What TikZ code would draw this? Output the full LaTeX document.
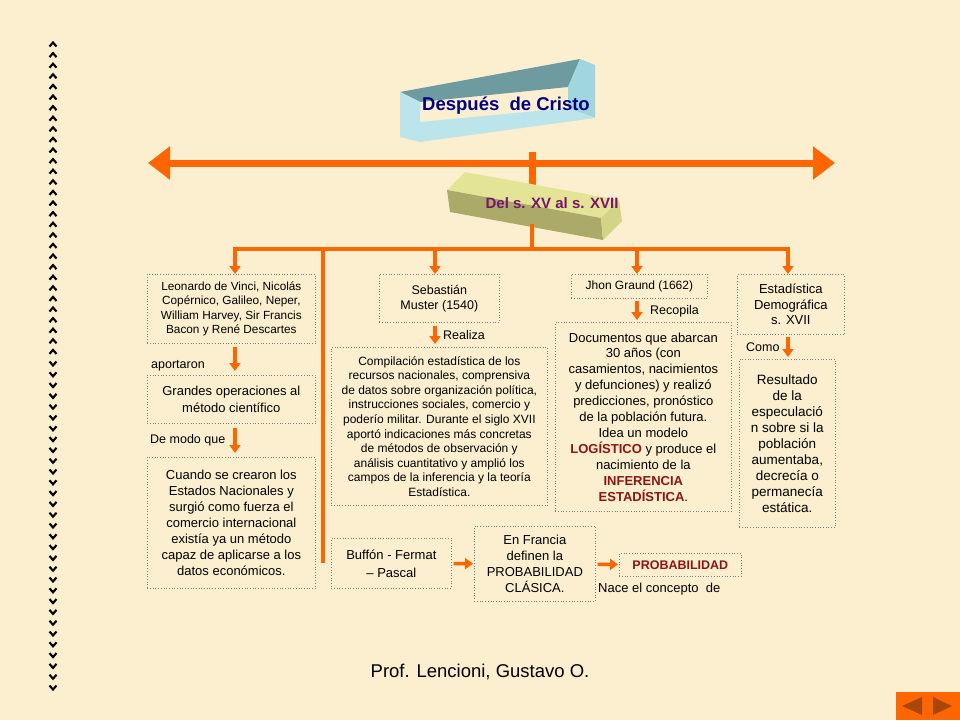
\documentclass[tikz,border=0pt]{standalone}
\usepackage{fontspec}
\setmainfont{Liberation Sans}
\usetikzlibrary{arrows.meta}
\definecolor{fondo}{RGB}{252,239,207}
\definecolor{naranja}{RGB}{255,102,0}
\definecolor{borde}{RGB}{125,125,125}
\definecolor{azul}{RGB}{0,0,128}
\definecolor{morado}{RGB}{120,20,110}
\definecolor{rojo}{RGB}{140,20,20}
\definecolor{cafe}{RGB}{170,70,10}
\definecolor{tealosc}{RGB}{110,155,160}
\definecolor{cianclaro}{RGB}{188,229,235}
\definecolor{cianmed}{RGB}{160,214,222}
\definecolor{amarclaro}{RGB}{228,228,150}
\definecolor{oliva}{RGB}{172,170,105}
\definecolor{amarmed}{RGB}{212,212,135}
\tikzset{>={Triangle[length=8pt,width=11pt]},%
  caja/.style={draw=borde,dotted,line width=0.7pt,align=center,inner sep=0pt,anchor=north west},%
  flecha/.style={naranja,line width=3.5pt,->},%
  rama/.style={naranja,line width=4pt},%
  etiq/.style={anchor=west,inner sep=0pt,font=\fontsize{12.5}{15}\selectfont},%
  chev/.style={line width=2.1pt}}
\newcommand{\rj}[1]{\textcolor{rojo}{\textbf{#1}}}

\begin{document}
\begin{tikzpicture}[x=1pt,y=-1pt]
  \useasboundingbox (0,0) rectangle (960,720);
  \fill[fondo] (0,0) rectangle (960,720);
  % chevrones
  \foreach \i in {0,...,29} {\draw[chev] (49.5,{46.5+10.6*\i}) -- (53,{42.5+10.6*\i}) -- (56.5,{46.5+10.6*\i});};
  \foreach \i in {0,...,30} {\draw[chev] (49.5,{361.5+10.8*\i}) -- (53,{365.5+10.8*\i}) -- (56.5,{361.5+10.8*\i});};
  % eje del tiempo
  \coordinate (izq) at (148,163);
  \coordinate (der) at (835,163);
  \coordinate (eje) at (532,152);
  \draw[naranja,line width=7pt,{Triangle[length=22pt,width=32pt]}-{Triangle[length=22pt,width=32pt]}] (izq) -- (der);
  \draw[naranja,line width=7pt] (eje) -- (532,200);
  % prisma 1
  \fill[tealosc] (400,92) -- (580,59) -- (568,87) -- (420,102) -- cycle;
  \fill[cianmed] (568,87) -- (580,59) -- (595,65) -- (595,118) -- (568,108) -- cycle;
  \fill[cianclaro] (400,92) -- (420,102) -- (420,142) -- (400,137) -- cycle;
  \fill[cianclaro] (420,122) -- (568,108) -- (595,118) -- (420,142) -- cycle;
  \node[font=\bfseries\fontsize{18.5}{22}\selectfont,text=azul] (dc) at (506,106) {Después\ \ de Cristo};
  % prisma 2
  \fill[amarclaro] (447,190) -- (465,172) -- (619,200) -- (601,218) -- cycle;
  \fill[oliva] (447,190) -- (601,218) -- (603,240) -- (450,212) -- cycle;
  \fill[amarmed] (601,218) -- (619,200) -- (622,221) -- (603,240) -- cycle;
  \node[font=\bfseries\fontsize{15}{18}\selectfont,text=morado] (siglo) at (552,203) {Del s. XV al s. XVII};
  % ramas
  \coordinate (pie) at (532,224);
  \coordinate (nudo) at (532,249);
  \coordinate (b1) at (235,249);
  \coordinate (b2) at (435,249);
  \coordinate (b3) at (637,249);
  \coordinate (b4) at (788,249);
  \coordinate (bv) at (323,249);
  \coordinate (bvfin) at (323,563);
  \draw[rama] (pie) -- (nudo);
  \draw[rama,line cap=rect] (b1) -- (b4);
  \draw[rama] (bv) -- (bvfin);
  % cajas
  \node[caja,minimum width=168pt,minimum height=69pt,font=\fontsize{11.8}{14.3}\selectfont] (leo) at (147,274)
    {Leonardo de Vinci, Nicolás\\Copérnico, Galileo, Neper,\\William Harvey, Sir Francis\\Bacon y René Descartes};
  \node[caja,minimum width=168pt,minimum height=48pt,font=\fontsize{13}{17}\selectfont] (grandes) at (147,375)
    {Grandes operaciones al\\método científico};
  \node[caja,minimum width=168pt,minimum height=131pt,font=\fontsize{13}{16}\selectfont] (cuando) at (147,457)
    {Cuando se crearon los\\Estados Nacionales y\\surgió como fuerza el\\comercio internacional\\existía ya un método\\capaz de aplicarse a los\\datos económicos.};
  \node[caja,minimum width=120pt,minimum height=48pt,font=\fontsize{12.5}{15}\selectfont] (muster) at (379,274)
    {Sebastián\\Muster (1540)};
  \node[caja,minimum width=216pt,minimum height=158pt,font=\fontsize{12}{14.6}\selectfont] (compila) at (331,347)
    {Compilación estadística de los\\recursos nacionales, comprensiva\\de datos sobre organización política,\\instrucciones sociales, comercio y\\poderío militar. Durante el siglo XVII\\aportó indicaciones más concretas\\de métodos de observación y\\análisis cuantitativo y amplió los\\campos de la inferencia y la teoría\\Estadística.};
  \node[caja,minimum width=136pt,minimum height=24pt,font=\fontsize{12}{14}\selectfont] (graund) at (571,274)
    {Jhon Graund (1662)};
  \node[caja,minimum width=176pt,minimum height=189pt,font=\fontsize{13}{15.9}\selectfont] (docs) at (555,322)
    {Documentos que abarcan\\30 años (con\\casamientos, nacimientos\\y defunciones) y realizó\\predicciones, pronóstico\\de la población futura.\\Idea un modelo\\\rj{LOGÍSTICO} y produce el\\nacimiento de la\\\rj{INFERENCIA}\\\rj{ESTADÍSTICA}.};
  \node[caja,minimum width=107pt,minimum height=60pt,font=\fontsize{13}{15.5}\selectfont] (demo) at (737,274)
    {Estadística\\Demográfica\\s. XVII};
  \node[caja,minimum width=96pt,minimum height=168pt,font=\fontsize{13.5}{16}\selectfont] (result) at (739,359)
    {Resultado\\de la\\especulació\\n sobre si la\\población\\aumentaba,\\decrecía o\\permanecía\\estática.};
  \node[caja,minimum width=120pt,minimum height=50pt,font=\fontsize{13}{18}\selectfont] (buffon) at (331,538)
    {Buffón - Fermat\\– Pascal};
  \node[caja,minimum width=121pt,minimum height=75pt,font=\fontsize{13}{16}\selectfont] (francia) at (474,526)
    {En Francia\\definen la\\PROBABILIDAD\\CLÁSICA.};
  \node[caja,minimum width=122pt,minimum height=23pt,font=\bfseries\fontsize{12.5}{15}\selectfont,text=rojo] (proba) at (619,553)
    {PROBABILIDAD};
  % etiquetas
  \node[etiq] (aport) at (151,366) {aportaron};
  \node[etiq] (modo) at (150,440) {De modo que};
  \node[etiq] (realiza) at (443,335) {Realiza};
  \node[etiq] (recop) at (650,311) {Recopila};
  \node[etiq] (como) at (746,347) {Como};
  \node[etiq,font=\fontsize{13}{15}\selectfont] (nace) at (598,589) {Nace el concepto\ \ de};
  % flechas
  \draw[flecha] (b1) -- (b1 |- leo.north);
  \draw[flecha] (b2) -- (b2 |- muster.north);
  \draw[flecha] (b3) -- (b3 |- graund.north);
  \draw[flecha] (b4) -- (b4 |- demo.north);
  \draw[flecha,shorten <=3pt,shorten >=4pt] (b1 |- leo.south) -- (b1 |- grandes.north);
  \draw[flecha,shorten <=4pt,shorten >=4pt] (b1 |- grandes.south) -- (b1 |- cuando.north);
  \draw[flecha,shorten <=3pt,shorten >=3pt] (b2 |- muster.south) -- (b2 |- compila.north);
  \draw[flecha,shorten <=2pt,shorten >=2pt] (b3 |- graund.south) -- (b3 |- docs.north);
  \draw[flecha,shorten <=2pt,shorten >=2pt] (b4 |- demo.south) -- (b4 |- result.north);
  \draw[flecha,shorten <=2pt,shorten >=1pt] (buffon) -- (francia);
  \draw[flecha,shorten <=2pt,shorten >=1pt] (francia) -- (proba);
  % pie
  \node[font=\fontsize{18.5}{22}\selectfont] (autor) at (480,672) {Prof. Lencioni, Gustavo O.};
  \fill[naranja] (896,692) rectangle (960,720);
  \fill[cafe] (902,706) -- (922,697) -- (922,715) -- cycle;
  \fill[cafe] (952,706) -- (933,697) -- (933,715) -- cycle;
\end{tikzpicture}
\end{document}
